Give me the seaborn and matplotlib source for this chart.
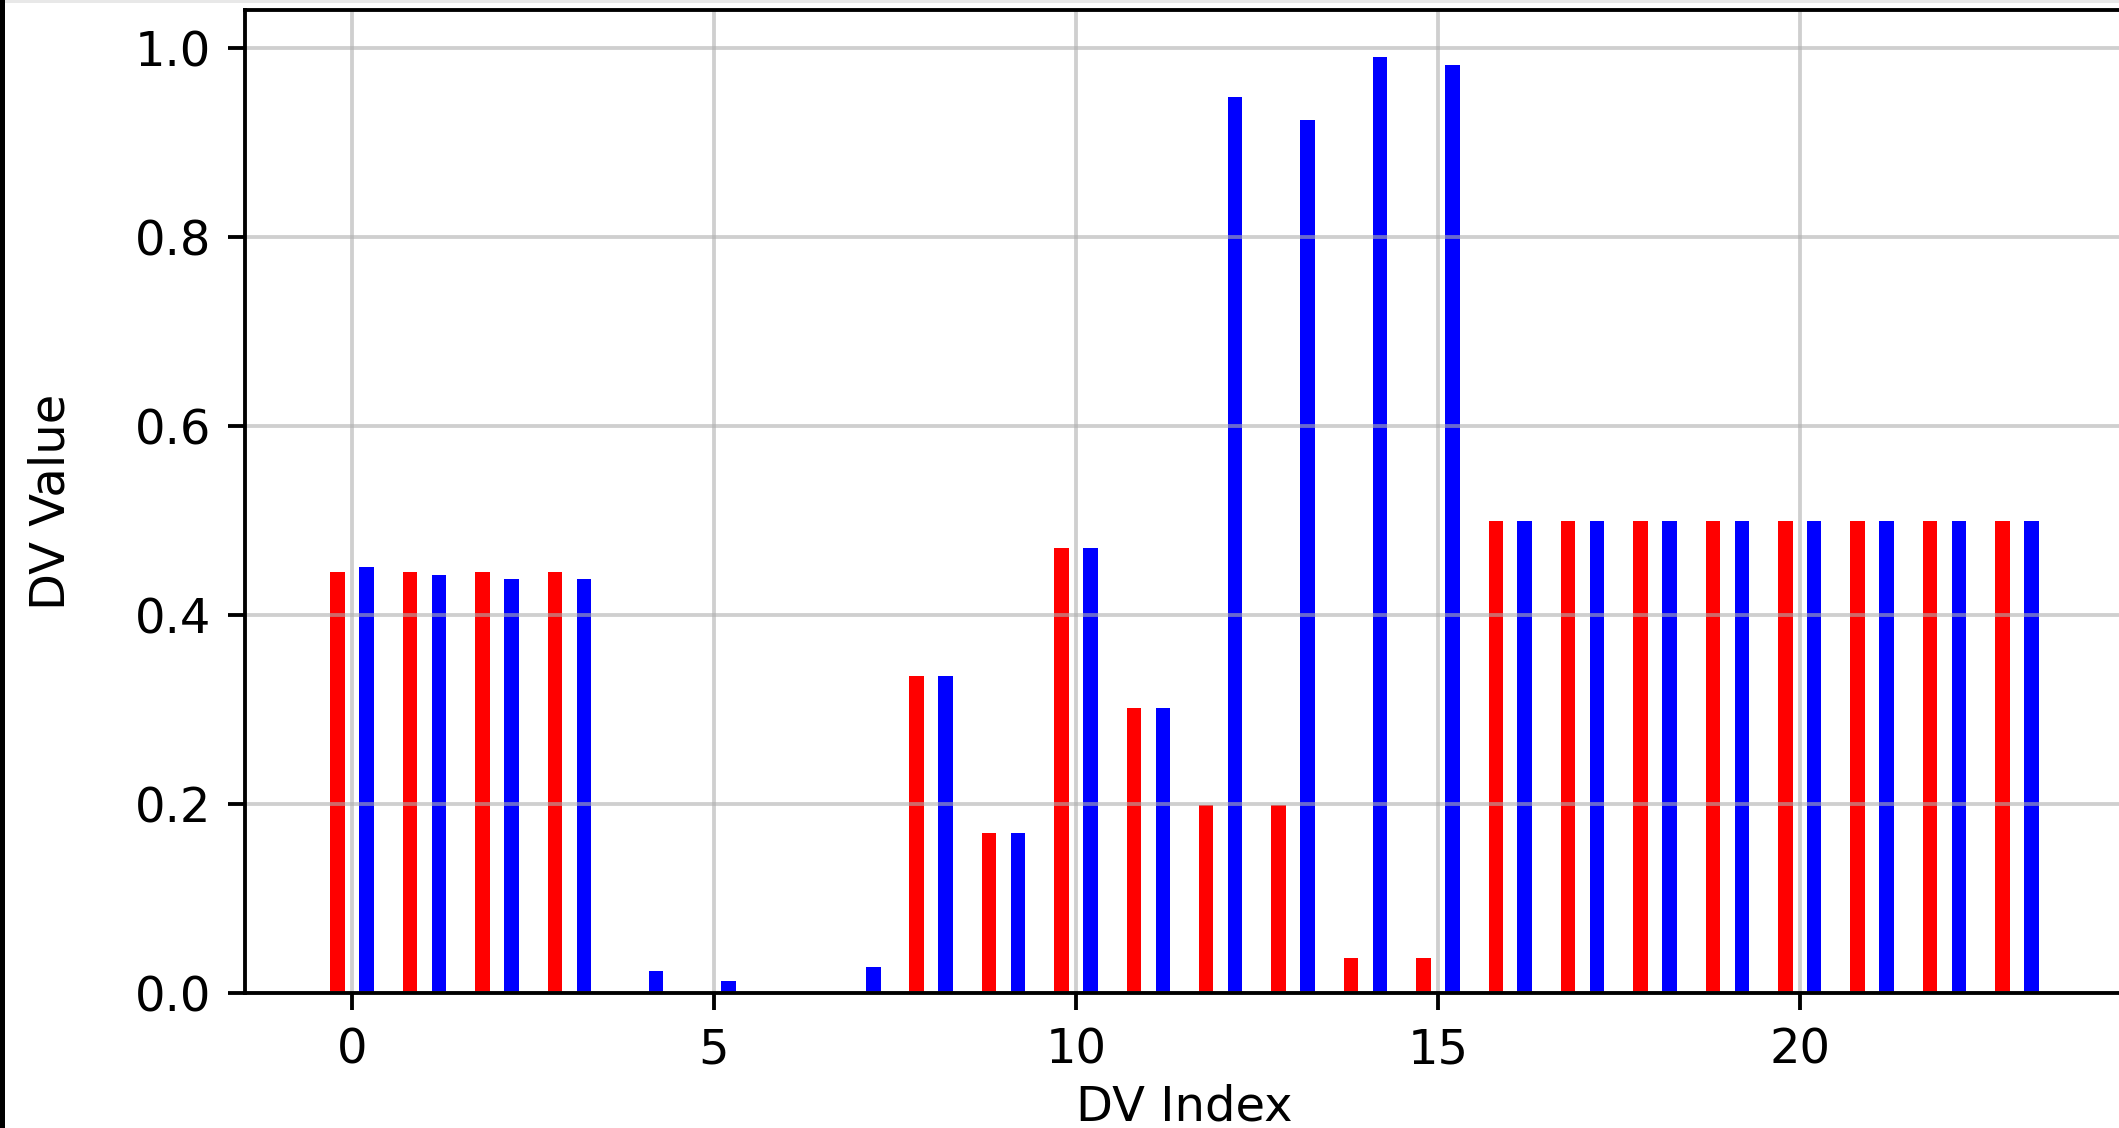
import numpy as np
import pandas as pd
import matplotlib
matplotlib.use("Agg")
import matplotlib.pyplot as plt
from matplotlib.patches import Rectangle
import seaborn as sns

# Decision-variable values for the two solutions
dv_index = list(range(24))
red_values = [0.446, 0.446, 0.446, 0.446, 0.0, 0.0, 0.0, 0.0,
              0.336, 0.169, 0.471, 0.302, 0.199, 0.199, 0.037, 0.037,
              0.5, 0.5, 0.5, 0.5, 0.5, 0.5, 0.5, 0.5]
blue_values = [0.451, 0.443, 0.438, 0.438, 0.023, 0.013, 0.0, 0.027,
               0.336, 0.169, 0.471, 0.302, 0.948, 0.924, 0.991, 0.982,
               0.5, 0.5, 0.5, 0.5, 0.5, 0.5, 0.5, 0.5]
series_names = ["Solution A", "Solution B"]
series_colors = ["red", "blue"]

df = pd.DataFrame({
    "DV Index": dv_index * 2,
    "DV Value": red_values + blue_values,
    "Solution": [series_names[0]] * len(dv_index) + [series_names[1]] * len(dv_index),
})

DPI = 346
W, H = 2119, 1128
plt.rcParams["font.family"] = ["DejaVu Sans"]
fig = plt.figure(figsize=((W + 0.01) / DPI, (H + 0.01) / DPI), dpi=DPI)
fig.patch.set_facecolor("white")

ax_left, ax_right = 245 / W, 2124 / W
ax_bottom, ax_top = (H - 993) / H, (H - 10) / H
ax = fig.add_axes([ax_left, ax_bottom, ax_right - ax_left, ax_top - ax_bottom])

sns.barplot(
    data=df, x="DV Index", y="DV Value", hue="Solution",
    hue_order=series_names, palette=series_colors,
    native_scale=True, dodge=True, width=0.8, gap=0.5,
    errorbar=None, linewidth=0, saturation=1, legend=False, ax=ax,
)

ax.set_xlim(-1.48, 24.48)
ax.set_ylim(0, 1.0406)
ax.set_xticks([0, 5, 10, 15, 20])
ax.set_yticks([0.0, 0.2, 0.4, 0.6, 0.8, 1.0])
ax.set_yticklabels(["0.0", "0.2", "0.4", "0.6", "0.8", "1.0"])
ax.grid(True, color="#b0b0b0", alpha=0.6, linewidth=0.8)
ax.set_xlabel("DV Index", labelpad=2.0)
ax.set_ylabel("DV Value")
ax.yaxis.set_label_coords(-0.0905, 0.5)

# thin dark strip on the left edge and light band at the top edge
fig.patches.append(Rectangle((0, 0), 5 / W, 1, transform=fig.transFigure,
                             facecolor="black", edgecolor="none", zorder=10))
fig.patches.append(Rectangle((0, 1 - 3 / H), 1, 3 / H, transform=fig.transFigure,
                             facecolor="#e8e8e8", edgecolor="none", zorder=9))

fig.savefig("out.png", dpi=DPI)
